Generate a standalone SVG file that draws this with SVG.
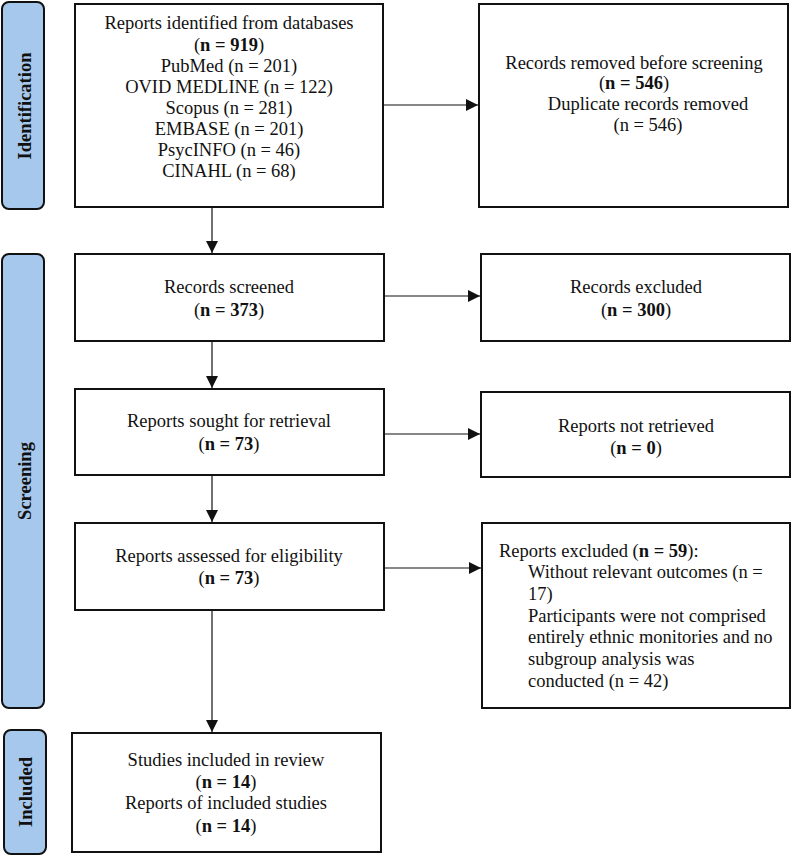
<svg xmlns="http://www.w3.org/2000/svg" width="792" height="856" viewBox="0 0 792 856">
<style>
.box{fill:#fff;stroke:#111;stroke-width:2}
.side{fill:#a6c8ec;stroke:#111;stroke-width:2}
.t{font-family:"Liberation Serif","Times New Roman",serif;font-size:18.5px;fill:#111}
.c{text-anchor:middle}
.s{font-family:"Liberation Serif","Times New Roman",serif;font-size:18.5px;font-weight:bold;fill:#111;text-anchor:middle}
.ln{stroke:#111;stroke-width:1.2;fill:none}
</style>
<defs>
<marker id="ah" viewBox="0 0 12 12" refX="12" refY="6" markerWidth="12" markerHeight="12" markerUnits="userSpaceOnUse" orient="auto">
<path d="M0,0 L12,6 L0,12 Z" fill="#111"/>
</marker>
</defs>
<rect width="792" height="856" fill="#fff"/>

<g id="side-identification">
<rect class="side" x="2" y="2" width="42" height="207" rx="7"/>
<text class="s" transform="translate(31,106) rotate(-90)">Identification</text>
</g>
<g id="side-screening">
<rect class="side" x="2" y="254" width="42" height="454" rx="7"/>
<text class="s" transform="translate(31,481) rotate(-90)">Screening</text>
</g>
<g id="side-included">
<rect class="side" x="4" y="730" width="42" height="124" rx="7"/>
<text class="s" transform="translate(32,792) rotate(-90)">Included</text>
</g>

<g id="connectors">
<line class="ln" x1="212" y1="207" x2="212" y2="253" marker-end="url(#ah)"/>
<line class="ln" x1="212" y1="341" x2="212" y2="388" marker-end="url(#ah)"/>
<line class="ln" x1="212" y1="475" x2="212" y2="522" marker-end="url(#ah)"/>
<line class="ln" x1="212" y1="610" x2="212" y2="732" marker-end="url(#ah)"/>
<line class="ln" x1="383" y1="105" x2="478" y2="105" marker-end="url(#ah)"/>
<line class="ln" x1="384" y1="296" x2="480" y2="296" marker-end="url(#ah)"/>
<line class="ln" x1="384" y1="434" x2="480" y2="434" marker-end="url(#ah)"/>
<line class="ln" x1="384" y1="568" x2="481" y2="568" marker-end="url(#ah)"/>
</g>

<g id="identified">
<rect class="box" x="75" y="4" width="308" height="203"/>
<text class="t c" x="229" y="29">Reports identified from databases</text>
<text class="t c" x="229" y="51">(<tspan font-weight="bold">n = 919</tspan>)</text>
<text class="t c" x="229" y="72">PubMed (n = 201)</text>
<text class="t c" x="229" y="93">OVID MEDLINE (n = 122)</text>
<text class="t c" x="229" y="114">Scopus (n = 281)</text>
<text class="t c" x="229" y="135">EMBASE (n = 201)</text>
<text class="t c" x="229" y="156">PsycINFO (n = 46)</text>
<text class="t c" x="229" y="177">CINAHL (n = 68)</text>
</g>

<g id="removed">
<rect class="box" x="479" y="4" width="309" height="203"/>
<text class="t c" x="634" y="69">Records removed before screening</text>
<text class="t c" x="634" y="89">(<tspan font-weight="bold">n = 546</tspan>)</text>
<text class="t c" x="648" y="110">Duplicate records removed</text>
<text class="t c" x="648" y="131">(n = 546)</text>
</g>

<g id="screened">
<rect class="box" x="75" y="254" width="309" height="87"/>
<text class="t c" x="229" y="293">Records screened</text>
<text class="t c" x="229" y="316">(<tspan font-weight="bold">n = 373</tspan>)</text>
</g>

<g id="excluded">
<rect class="box" x="481" y="254" width="309" height="87"/>
<text class="t c" x="636" y="293">Records excluded</text>
<text class="t c" x="636" y="316">(<tspan font-weight="bold">n = 300</tspan>)</text>
</g>

<g id="sought">
<rect class="box" x="75" y="389" width="309" height="86"/>
<text class="t c" x="229" y="427">Reports sought for retrieval</text>
<text class="t c" x="229" y="450">(<tspan font-weight="bold">n = 73</tspan>)</text>
</g>

<g id="not-retrieved">
<rect class="box" x="481" y="392" width="309" height="85"/>
<text class="t c" x="636" y="432">Reports not retrieved</text>
<text class="t c" x="636" y="454">(<tspan font-weight="bold">n = 0</tspan>)</text>
</g>

<g id="assessed">
<rect class="box" x="75" y="523" width="309" height="87"/>
<text class="t c" x="229" y="562">Reports assessed for eligibility</text>
<text class="t c" x="229" y="584">(<tspan font-weight="bold">n = 73</tspan>)</text>
</g>

<g id="reports-excluded">
<rect class="box" x="482" y="523" width="308" height="185"/>
<text class="t" x="499" y="557">Reports excluded (<tspan font-weight="bold">n = 59</tspan>):</text>
<text class="t" x="528" y="578">Without relevant outcomes (n =</text>
<text class="t" x="528" y="600">17)</text>
<text class="t" x="528" y="622">Participants were not comprised</text>
<text class="t" x="528" y="643">entirely ethnic monitories and no</text>
<text class="t" x="528" y="665">subgroup analysis was</text>
<text class="t" x="528" y="687">conducted (n = 42)</text>
</g>

<g id="included">
<rect class="box" x="72" y="733" width="309" height="119"/>
<text class="t c" x="226" y="766">Studies included in review</text>
<text class="t c" x="226" y="788">(<tspan font-weight="bold">n = 14</tspan>)</text>
<text class="t c" x="226" y="809">Reports of included studies</text>
<text class="t c" x="226" y="832">(<tspan font-weight="bold">n = 14</tspan>)</text>
</g>
</svg>
